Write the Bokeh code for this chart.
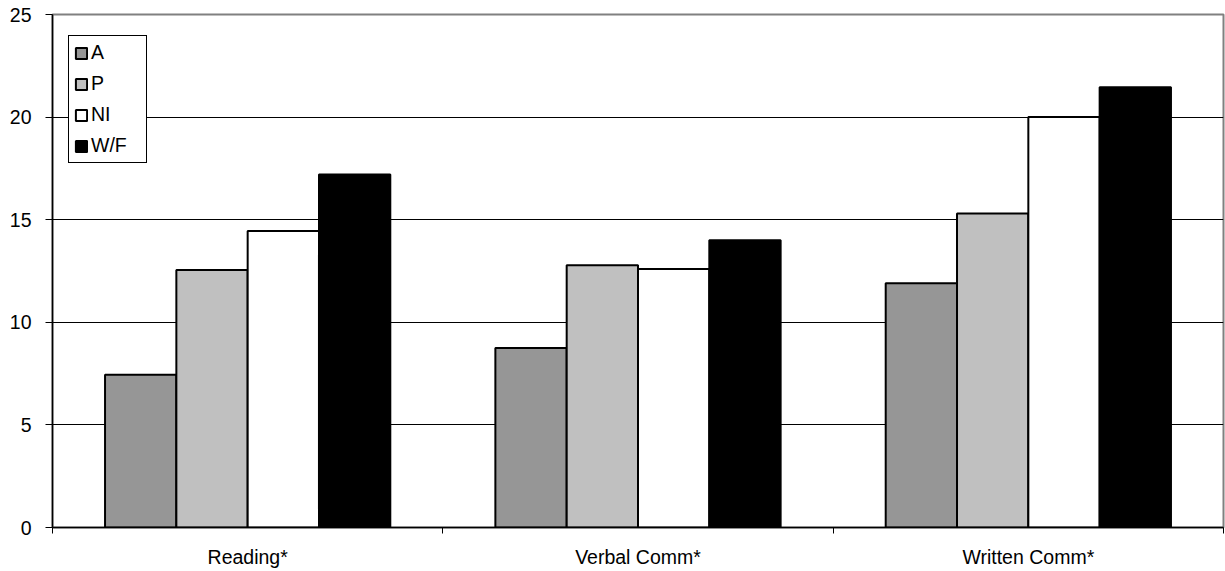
from bokeh.plotting import figure
from bokeh.models import ColumnDataSource, FixedTicker, Range1d, Legend, LegendItem
from bokeh.transform import dodge
from bokeh.embed import file_html
from bokeh.resources import INLINE

# Scores by skill area for each rating group
categories = ["Reading*", "Verbal Comm*", "Written Comm*"]
series = ["A", "P", "NI", "W/F"]
values_A = [7.45, 8.75, 11.9]
values_P = [12.55, 12.78, 15.3]
values_NI = [14.45, 12.6, 20.0]
values_WF = [17.2, 14.0, 21.45]
y_ticks = [0, 5, 10, 15, 20, 25]

colors = ["#969696", "#c0c0c0", "#ffffff", "#000000"]
FONT = "Liberation Sans, Arial, sans-serif"
FONT_SIZE = "19.5px"

centers = [i + 0.5 for i in range(len(categories))]
source = ColumnDataSource(dict(
    x=centers,
    A=values_A,
    P=values_P,
    NI=values_NI,
    WF=values_WF,
))

p = figure(
    width=1225, height=571,
    x_range=Range1d(0, len(categories)),
    y_range=Range1d(0, 25),
    output_backend="svg", toolbar_location=None,
    min_border_left=52, min_border_right=2,
    min_border_top=14, min_border_bottom=44,
)
p.background_fill_color = "white"
p.border_fill_color = "white"
p.outline_line_color = "#808080"
p.outline_line_width = 2

bar_w = 0.1827
cols = ["A", "P", "NI", "WF"]
renderers = []
for k, (col, c) in enumerate(zip(cols, colors)):
    off = (k - 1.5) * bar_w
    r = p.vbar(x=dodge("x", off, range=p.x_range), top=col, width=bar_w,
               bottom=0, source=source, fill_color=c,
               line_color="black", line_width=2)
    renderers.append(r)

# Axes
xa = p.xaxis[0]
xa.ticker = FixedTicker(ticks=centers, minor_ticks=list(range(len(categories) + 1)))
xa.major_label_overrides = {c: lab for c, lab in zip(centers, categories)}
xa.major_tick_out = 0
xa.major_tick_in = 0
xa.minor_tick_out = 6
xa.minor_tick_in = 0
xa.minor_tick_line_color = "black"
xa.axis_line_color = "black"
xa.axis_line_width = 1.5
xa.major_label_text_font = FONT
xa.major_label_text_font_size = FONT_SIZE
xa.major_label_text_color = "black"
xa.major_label_standoff = 12

ya = p.yaxis[0]
ya.ticker = FixedTicker(ticks=y_ticks)
ya.major_tick_out = 7
ya.major_tick_in = 0
ya.minor_tick_line_color = None
ya.major_tick_line_color = "black"
ya.axis_line_color = "black"
ya.axis_line_width = 1.5
ya.major_label_text_font = FONT
ya.major_label_text_font_size = FONT_SIZE
ya.major_label_text_color = "black"
ya.major_label_standoff = 14

p.xgrid.grid_line_color = None
p.ygrid.grid_line_color = "black"
p.ygrid.grid_line_width = 1

legend = Legend(
    items=[LegendItem(label=s, renderers=[r]) for s, r in zip(series, renderers)],
    location=(16, 364),
    orientation="vertical",
    glyph_width=14, glyph_height=14,
    label_text_font=FONT, label_text_font_size=FONT_SIZE,
    label_text_color="black",
    label_height=20, label_width=50,
    label_standoff=3, spacing=8, padding=5, margin=0,
    border_line_color="black", border_line_width=1, border_line_alpha=1,
    background_fill_color="white", background_fill_alpha=1,
)
p.add_layout(legend, "center")

open("out.html", "w").write(file_html(p, INLINE))
